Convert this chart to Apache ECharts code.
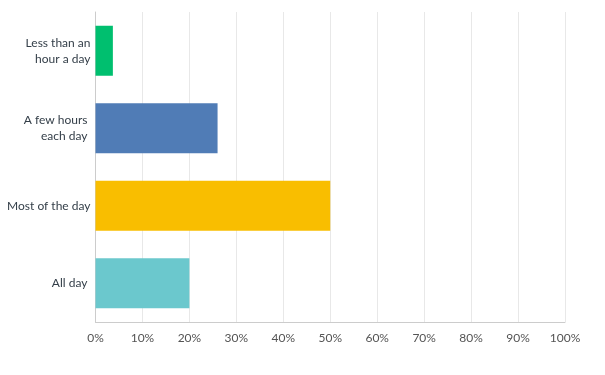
<!DOCTYPE html>
<html>
<head>
<meta charset="utf-8">
<script src="https://cdn.jsdelivr.net/npm/echarts@6/dist/echarts.min.js"></script>
<style>html,body{margin:0;padding:0;background:#fff}#c{width:605px;height:375px}</style>
</head>
<body>
<div id="c"></div>
<script>
const categories = ["Less than an\nhour a day", "A few hours \neach day ", "Most of the day", "All day "];
const values = [3.7, 26, 50, 20];
const colors = ["#00bf6f", "#507cb6", "#f9be00", "#6bc8cd"];
const xTicks = [0, 10, 20, 30, 40, 50, 60, 70, 80, 90, 100];

const chart = echarts.init(document.getElementById('c'), null, {renderer: 'canvas'});
chart.setOption({
  animation: false,
  grid: {left: 95.5, right: 40, top: 12, bottom: 53, containLabel: false},
  xAxis: {
    type: 'value', min: xTicks[0], max: xTicks[xTicks.length - 1], interval: 10,
    axisLine: {show: true, lineStyle: {color: '#cccccc', width: 1}},
    axisTick: {show: false},
    splitLine: {show: true, lineStyle: {color: '#e8e8e8', width: 1}},
    axisLabel: {formatter: v => v + '%', color: '#545454', fontSize: 12, fontFamily: 'Lato, sans-serif', margin: 10}
  },
  yAxis: {
    type: 'category', data: categories, inverse: true,
    axisLine: {show: true, lineStyle: {color: '#cccccc', width: 1}},
    axisTick: {show: false},
    axisLabel: {color: '#333e48', fontSize: 12, fontFamily: 'Lato, sans-serif', lineHeight: 16, margin: 5, align: 'right'}
  },
  series: [{
    type: 'bar',
    barWidth: 50,
    data: values.map((v, i) => ({value: v, itemStyle: {color: colors[i]}}))
  }]
});
</script>
</body>
</html>
